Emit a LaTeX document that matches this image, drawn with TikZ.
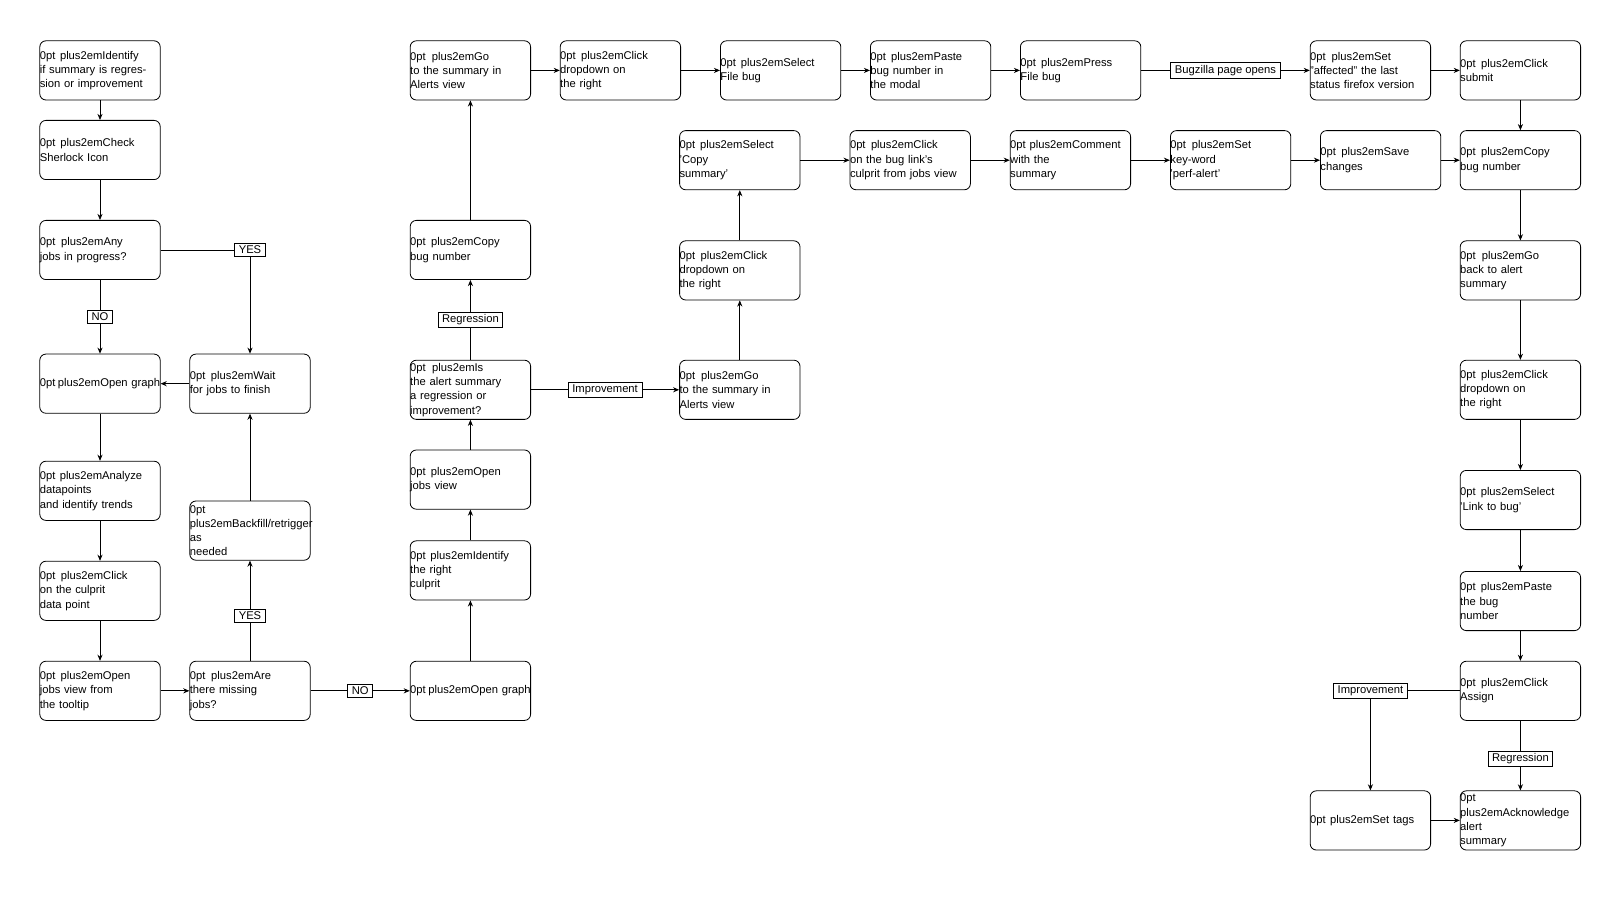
\documentclass[tikz,border=0pt]{standalone}
\usepackage{fontspec}
\setmainfont{Liberation Sans}
\usetikzlibrary{arrows.meta}
\begin{document}
\begin{tikzpicture}[x=1pt,y=-1pt,
 box/.style={draw,rounded corners=6pt,minimum width=118pt,minimum height=58pt,align=center,text width=118pt,font=\fontsize{11}{14}\selectfont\hyphenpenalty=10000\exhyphenpenalty=10000,inner sep=0pt},
 lab/.style={draw,fill=white,font=\fontsize{11}{14}\selectfont,inner xsep=4pt,inner ysep=2.5pt},
 every path/.style={line width=0.8pt},
 ar/.style={-{Stealth[length=6pt,width=5pt]}}]
\useasboundingbox (0,0) rectangle (1568,882);
\node[box] (a1) at (98,69) {Identify if summary is regression or improvement};
\node[box] (a2) at (98,147) {Check Sherlock Icon};
\node[box] (a3) at (98,245) {Any jobs in progress?};
\node[box] (a4) at (98,376) {Open graph};
\node[box] (a5) at (98,481) {Analyze datapoints\\and identify trends};
\node[box] (a6) at (98,579) {Click on the culprit\\data point};
\node[box] (a7) at (98,677) {Open jobs view from\\the tooltip};
\node[box] (b1) at (245,376) {Wait for jobs to finish};
\node[box] (b2) at (245,520) {Backfill/retrigger as\\needed};
\node[box] (b3) at (245,677) {Are there missing\\jobs?};
\node[box] (c1) at (461,677) {Open graph};
\node[box] (c2) at (461,559) {Identify the right\\culprit};
\node[box] (c3) at (461,470) {Open jobs view};
\node[box] (c4) at (461,382) {Is the alert summary\\a regression or\\improvement?};
\node[box] (c5) at (461,245) {Copy bug number};
\node[box] (c6) at (461,69) {Go to the summary in\\Alerts view};
\node[box] (d1) at (725,382) {Go to the summary in\\Alerts view};
\node[box] (d2) at (725,265) {Click dropdown on\\the right};
\node[box] (d3) at (725,157) {Select 'Copy\\summary'};
\node[box] (t1) at (608,69) {Click dropdown on\\the right};
\node[box] (t2) at (765,69) {Select File bug};
\node[box] (t3) at (912,69) {Paste bug number in\\the modal};
\node[box] (t4) at (1059,69) {Press File bug};
\node[box] (t5) at (1343,69) {Set "affected" the last\\status firefox version};
\node[box] (t6) at (1490,69) {Click submit};
\node[box] (r1) at (892,157) {Click on the bug link's\\culprit from jobs view};
\node[box] (r2) at (1049,157) {Comment with the\\summary};
\node[box] (r3) at (1206,157) {Set key-word\\'perf-alert'};
\node[box] (r4) at (1353,157) {Save changes};
\node[box] (r5) at (1490,157) {Copy bug number};
\node[box] (e1) at (1490,265) {Go back to alert\\summary};
\node[box] (e2) at (1490,382) {Click dropdown on\\the right};
\node[box] (e3) at (1490,490) {Select 'Link to bug'};
\node[box] (e4) at (1490,589) {Paste the bug\\number};
\node[box] (e5) at (1490,677) {Click Assign};
\node[box] (e6) at (1490,804) {Acknowledge alert\\summary};
\node[box] (f1) at (1343,804) {Set tags};
\draw[ar] (a1)--(a2); \draw[ar] (a2)--(a3);
\draw[ar] (a3)-- node[lab]{NO} (a4);
\draw[ar] (a3) -| node[lab,pos=0.5]{YES} (b1);
\draw[ar] (b1)--(a4);
\draw[ar] (a4)--(a5); \draw[ar] (a5)--(a6); \draw[ar] (a6)--(a7); \draw[ar] (a7)--(b3);
\draw[ar] (b3)-- node[lab,pos=0.45]{YES} (b2); \draw[ar] (b2)--(b1);
\draw[ar] (b3)-- node[lab]{NO} (c1);
\draw[ar] (c1)--(c2); \draw[ar] (c2)--(c3); \draw[ar] (c3)--(c4);
\draw[ar] (c4)-- node[lab]{Regression} (c5); \draw[ar] (c5)--(c6);
\draw[ar] (c6)--(t1); \draw[ar] (t1)--(t2); \draw[ar] (t2)--(t3); \draw[ar] (t3)--(t4);
\draw[ar] (t4)-- node[lab]{Bugzilla page opens} (t5); \draw[ar] (t5)--(t6); \draw[ar] (t6)--(r5);
\draw[ar] (c4)-- node[lab]{Improvement} (d1); \draw[ar] (d1)--(d2); \draw[ar] (d2)--(d3);
\draw[ar] (d3)--(r1); \draw[ar] (r1)--(r2); \draw[ar] (r2)--(r3); \draw[ar] (r3)--(r4); \draw[ar] (r4)--(r5);
\draw[ar] (r5)--(e1); \draw[ar] (e1)--(e2); \draw[ar] (e2)--(e3); \draw[ar] (e3)--(e4); \draw[ar] (e4)--(e5);
\draw[ar] (e5)-- node[lab,pos=0.55]{Regression} (e6);
\draw[ar] (e5) -| node[lab,pos=0.5]{Improvement} (f1);
\draw[ar] (f1)--(e6);
\end{tikzpicture}
\end{document}
